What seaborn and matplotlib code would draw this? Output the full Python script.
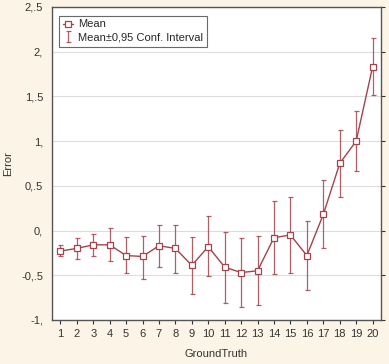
import numpy as np
import pandas as pd
import matplotlib
matplotlib.use("Agg")
import matplotlib.pyplot as plt
import seaborn as sns
from matplotlib.ticker import FixedLocator

ground_truth = list(range(1, 21))
mean_err = [-0.23, -0.20, -0.16, -0.16, -0.28, -0.29, -0.17, -0.20, -0.39, -0.18,
            -0.41, -0.47, -0.45, -0.08, -0.05, -0.28, 0.18, 0.75, 1.00, 1.83]
ci_low = [-0.29, -0.32, -0.28, -0.34, -0.48, -0.54, -0.41, -0.48, -0.71, -0.51,
          -0.81, -0.86, -0.83, -0.49, -0.47, -0.66, -0.19, 0.38, 0.67, 1.51]
ci_high = [-0.16, -0.08, -0.04, 0.03, -0.07, -0.06, 0.06, 0.06, -0.07, 0.16,
           -0.02, -0.08, -0.06, 0.33, 0.37, 0.11, 0.56, 1.12, 1.34, 2.15]
y_ticks = [-1, -0.5, 0, 0.5, 1, 1.5, 2, 2.5]
y_tick_labels = ["-1,", "-0,.5", "0,", "0,.5", "1,", "1,.5", "2,", "2,.5"]

df = pd.DataFrame({"GroundTruth": ground_truth, "Error": mean_err,
                   "lo": ci_low, "hi": ci_high})

sns.set_style("white")
plt.rcParams["font.family"] = ["Liberation Sans", "DejaVu Sans"]
col = "#a3434c"

fig = plt.figure(figsize=(3.89, 3.64), dpi=100, facecolor="#fcf5e7")
ax = fig.add_axes([0.134, 0.121, 0.845, 0.86])
ax.set_facecolor("white")

yerr = np.array([df["Error"] - df["lo"], df["hi"] - df["Error"]])
ax.errorbar(df["GroundTruth"], df["Error"], yerr=yerr, fmt="none", ecolor=col,
            elinewidth=0.9, capsize=1.8, capthick=0.9, alpha=0.85,
            label="Mean\u00b10,95 Conf. Interval", zorder=2)
sns.lineplot(data=df, x="GroundTruth", y="Error", ax=ax, color=col, linewidth=1.0,
             marker="s", markersize=4.5, markerfacecolor="white",
             markeredgecolor=col, markeredgewidth=0.9, label="Mean", zorder=3)

ax.set_xlim(0.5, 20.5)
ax.set_ylim(-1, 2.5)
ax.set_xticks(ground_truth)
ax.yaxis.set_major_locator(FixedLocator(y_ticks))
ax.set_yticklabels(y_tick_labels)
ax.grid(axis="y", color="#dddddd", linewidth=0.8)
ax.tick_params(axis="both", labelsize=8, colors="#333333", length=3, width=0.8)
ax.tick_params(axis="y", right=True, direction="out")
ax.tick_params(axis="x", bottom=True, top=False, direction="out")
for s in ax.spines.values():
    s.set_color("#555555")
    s.set_linewidth(1.0)
ax.set_xlabel("GroundTruth", fontsize=8, color="#333333", labelpad=7)
ax.set_ylabel("Error", fontsize=8, color="#333333", labelpad=6)

handles, labels = ax.get_legend_handles_labels()
order = [labels.index("Mean"), labels.index("Mean\u00b10,95 Conf. Interval")]
leg = ax.legend([handles[i] for i in order], [labels[i] for i in order],
                loc="upper left", fontsize=8, frameon=True, fancybox=False,
                edgecolor="#444444", borderpad=0.35, handlelength=0.9,
                handletextpad=0.4, labelspacing=0.3, bbox_to_anchor=(0.005, 0.99))
leg.get_frame().set_linewidth(0.8)

fig.savefig("out.png", dpi=100, facecolor=fig.get_facecolor())
